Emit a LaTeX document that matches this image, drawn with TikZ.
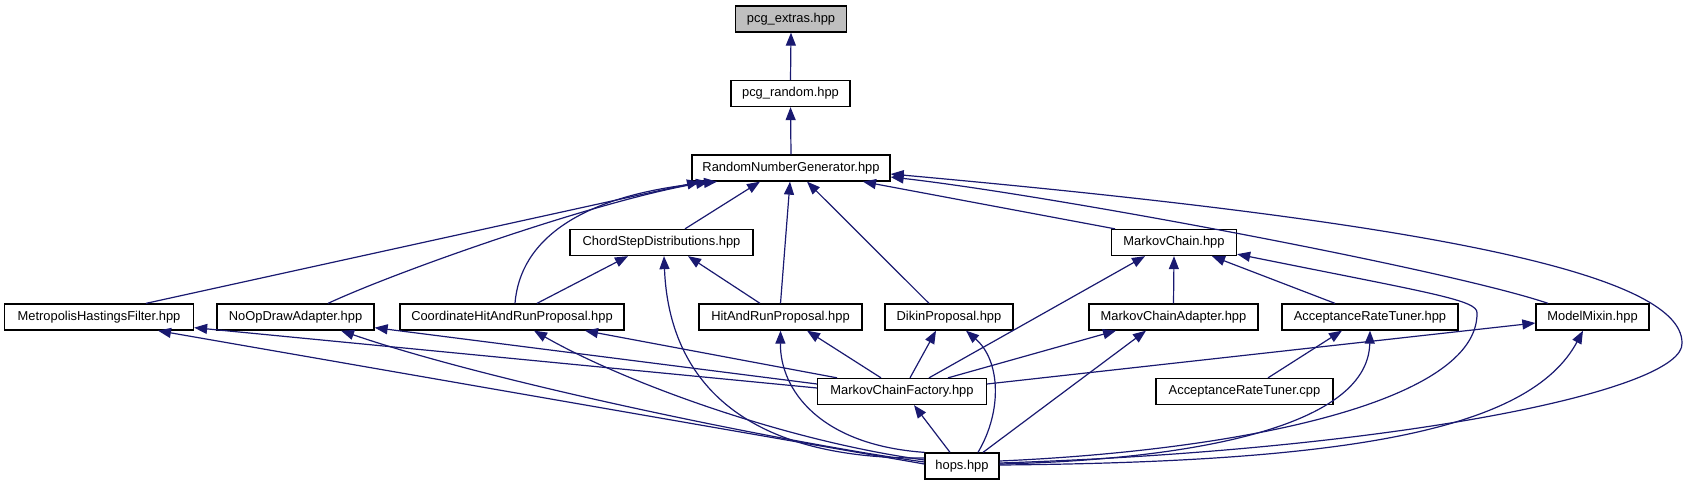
\documentclass[tikz,border=0pt]{standalone}
\usepackage{fontspec}
\setmainfont{Liberation Sans}
\usetikzlibrary{arrows.meta}
\definecolor{dblue}{HTML}{191970}
\definecolor{gfill}{HTML}{BFBFBF}
\begin{document}
\begin{tikzpicture}[x=1pt,y=-1pt,
  box/.style={draw=black, line width=1.3pt, fill=white, minimum height=26pt, inner sep=0pt,
    font=\fontsize{12.9}{15}\selectfont, text=black},
  edge/.style={draw=dblue, line width=1.2pt, -{Triangle[length=13pt,width=10pt]}},
]
\useasboundingbox (0,0) rectangle (1688,485);
% nodes
\node[box, fill=gfill, minimum width=111pt] (ext) at (791,19) {pcg\_extras.hpp};
\node[box, minimum width=119pt] (rand) at (790.5,93.5) {pcg\_random.hpp};
\node[box, minimum width=198pt] (rng) at (791,168) {RandomNumberGenerator.hpp};
\node[box, minimum width=183pt] (chord) at (661.5,242.5) {ChordStepDistributions.hpp};
\node[box, minimum width=125pt] (mc) at (1174,242.5) {MarkovChain.hpp};
\node[box, minimum width=189pt] (mhf) at (99,317) {MetropolisHastingsFilter.hpp};
\node[box, minimum width=157pt] (noop) at (295.5,317) {NoOpDrawAdapter.hpp};
\node[box, minimum width=224pt] (coord) at (512,317) {CoordinateHitAndRunProposal.hpp};
\node[box, minimum width=163pt] (har) at (780.5,317) {HitAndRunProposal.hpp};
\node[box, minimum width=128pt] (dikin) at (949,317) {DikinProposal.hpp};
\node[box, minimum width=169pt] (mca) at (1173.5,317) {MarkovChainAdapter.hpp};
\node[box, minimum width=176pt] (arth) at (1370,317) {AcceptanceRateTuner.hpp};
\node[box, minimum width=113pt] (mix) at (1592.5,317) {ModelMixin.hpp};
\node[box, minimum width=168.5pt] (mcf) at (902,391.5) {MarkovChainFactory.hpp};
\node[box, minimum width=177pt] (artc) at (1244.5,391.5) {AcceptanceRateTuner.cpp};
\node[box, minimum width=74pt] (hops) at (962,466) {hops.hpp};
% edges
\draw[edge] (rand.north) -- (ext.south);
\draw[edge] (rng.north) -- (rand.south);
\draw[edge] ([xshift=23.5pt]chord.north) -- ([xshift=-31pt]rng.south);
\draw[edge] ([xshift=-59pt]mc.north) -- ([xshift=72pt]rng.south);
\draw[edge] ([xshift=47pt]mhf.north) -- ([xshift=-91pt]rng.south);
\draw[edge] ([xshift=32.5pt]noop.north) .. controls (400,270) and (600,200) .. ([xshift=-82pt]rng.south);
\draw[edge] ([xshift=3pt]coord.north) .. controls (520,240) and (580,195) .. ([xshift=-74pt]rng.south);
\draw[edge] (har.north) -- ([xshift=-1pt]rng.south);
\draw[edge] ([xshift=-20pt]dikin.north) -- ([xshift=16pt]rng.south);
\draw[edge] ([xshift=-44.5pt]mix.north) .. controls (1450,270) and (1050,195) .. ([yshift=-9pt]rng.east);
\draw[edge] ([yshift=3pt]hops.east) .. controls (1400,450) and (1685,390) .. (1682,343)
   .. controls (1682,270) and (1400,220) .. ([yshift=-6pt]rng.east);
\draw[edge] ([xshift=25pt]coord.north) -- ([xshift=-33.5pt]chord.south);
\draw[edge] ([xshift=-20.5pt]har.north) -- ([xshift=26.5pt]chord.south);
\draw[edge] ([yshift=8pt]hops.west) .. controls (720,460) and (668,360) .. ([xshift=2.5pt]chord.south);
\draw[edge] ([xshift=27pt]mcf.north) -- ([xshift=-29pt]mc.south);
\draw[edge] (mca.north) -- (mc.south);
\draw[edge] ([xshift=-35pt]arth.north) -- ([xshift=38pt]mc.south);
\draw[edge] ([yshift=5pt]hops.east) .. controls (1250,450) and (1478,400) .. (1477,313)
   .. controls (1478,300) and (1430,293) .. ([yshift=2pt]mc.south east);
\draw[edge] ([yshift=3.5pt]mcf.west) -- ([yshift=3pt]mhf.south east);
\draw[edge] ([yshift=2pt]hops.west) -- ([xshift=59pt]mhf.south);
\draw[edge] ([yshift=7.5pt]mcf.west) -- ([yshift=3pt]noop.south east);
\draw[edge] ([yshift=4pt]hops.west) .. controls (800,445) and (500,385) .. ([xshift=45.5pt]noop.south);
\draw[edge] ([xshift=20pt]mcf.north west) -- ([xshift=73pt]coord.south);
\draw[edge] ([yshift=6pt]hops.west) .. controls (780,440) and (620,380) .. ([xshift=22pt]coord.south);
\draw[edge] ([xshift=-21pt]mcf.north) -- ([xshift=26.5pt]har.south);
\draw[edge] (hops.north west) .. controls (820,445) and (780,390) .. (har.south);
\draw[edge] ([xshift=8pt]mcf.north) -- ([xshift=-13pt]dikin.south);
\draw[edge] ([xshift=16pt]hops.north) .. controls (1003,410) and (1000,360) .. ([xshift=17pt]dikin.south);
\draw[edge] ([xshift=46pt]mcf.north) -- ([xshift=-57.5pt]mca.south);
\draw[edge] ([xshift=21pt]hops.north) -- ([xshift=-27.5pt]mca.south);
\draw[edge] ([xshift=23.5pt]artc.north) -- ([xshift=-28pt]arth.south);
\draw[edge] ([yshift=2pt]hops.east) .. controls (1180,460) and (1368,430) .. (arth.south);
\draw[edge] ([yshift=7.5pt]mcf.east) -- ([yshift=-6pt]mix.west);
\draw[edge] ([yshift=1pt]hops.east) .. controls (1350,462) and (1530,430) .. ([xshift=-9.5pt]mix.south);
\draw[edge] ([xshift=-12pt]hops.north) -- ([xshift=12pt]mcf.south);
\end{tikzpicture}
\end{document}
